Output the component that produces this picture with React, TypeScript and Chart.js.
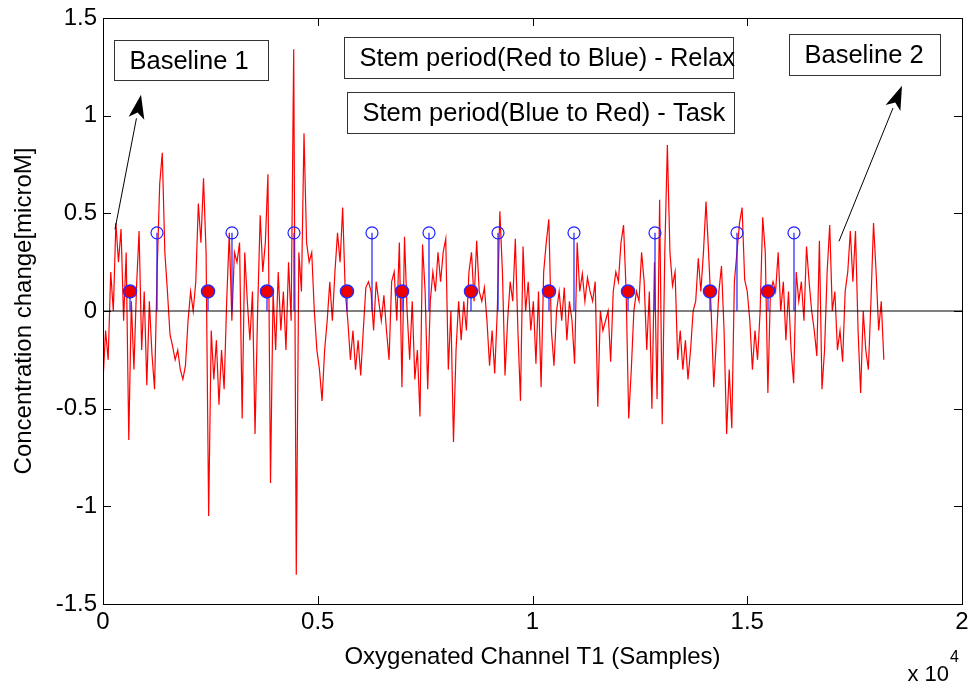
import React, { useEffect, useRef } from "react";
import { Chart, registerables } from "chart.js";

Chart.register(...registerables);

// ---------- data ----------
const SAMPLE_STEP = 60; // samples between successive readings of the signal
const signal: number[] = [
  -0.36, -0.1, -0.25, 0.2, 0.0, 0.45, 0.25, 0.42, -0.05, 0.3,
  -0.66, 0.05, -0.3, 0.12, 0.41, -0.2, 0.1, -0.38, 0.05, -0.22,
  -0.4, 0.2, 0.65, 0.81, 0.3, 0.1, -0.12, -0.18, -0.25, -0.2,
  -0.3, -0.35, -0.28, -0.05, 0.1, 0.0, 0.15, 0.55, 0.35, 0.68,
  0.3, -1.05, -0.1, -0.35, -0.15, -0.48, -0.2, -0.4, 0.05, 0.4,
  -0.05, 0.3,
  0.25, 0.35, -0.55, 0.3, 0.05, -0.15, 0.1, -0.63, 0.0, 0.49,
  0.2, 0.35, 0.7, -0.88, 0.1, -0.2, 0.2, -0.1, 0.1, -0.2,
  0.25, -0.05, 1.34, -1.35, 0.3, 0.1, 0.91, 0.35, 0.25, 0.3,
  0.0, -0.2, -0.3, -0.46, -0.2, -0.05, 0.15, -0.05, 0.2, 0.4,
  0.25, 0.53, 0.1, -0.05, -0.25, -0.1, -0.3, -0.15, -0.33, -0.1,
  0.12, 0.15,
  0.1, -0.1, 0.15, 0.05, -0.05, 0.08, -0.1, -0.25, 0.15, 0.2,
  -0.05, 0.35, -0.39, 0.38, 0.0, -0.25, 0.05, -0.35, -0.2, -0.54,
  0.34, 0.1, -0.4, 0.05, 0.2, 0.1, 0.3, 0.15, 0.3, 0.37,
  -0.3, 0.0, -0.67, -0.2, 0.05, -0.15, 0.05, -0.1, 0.2, 0.3,
  0.05, 0.36, 0.1, 0.05, 0.12, -0.05, -0.28, -0.1, -0.32, 0.0,
  0.51, 0.2,
  -0.33, -0.05, 0.15, 0.05, 0.37, -0.1, -0.46, 0.33, 0.0, 0.15,
  -0.1, 0.05, -0.27, 0.1, -0.39, 0.2, 0.35, 0.47, -0.1, -0.28,
  0.0, 0.1, -0.05, 0.12, -0.15, 0.05, -0.05, -0.27, 0.35, 0.1,
  0.19, 0.05, 0.17, 0.1, 0.05, 0.15, -0.49, 0.0, -0.1, -0.05,
  0.0, -0.26, 0.1, 0.2, 0.15, 0.35, 0.44, 0.1, -0.55, -0.3,
  0.0, 0.1, 0.05,
  0.3, 0.15, -0.2, 0.1, -0.5, 0.25, -0.45, 0.57, -0.58, 0.3,
  0.85, 0.3, 0.13, 0.2, -0.25, -0.1, -0.3, -0.15, -0.35, -0.2,
  0.0, 0.05, 0.27, 0.1, 0.3, 0.56, 0.3, 0.0, -0.39, -0.15,
  0.1, 0.23, -0.1, -0.63, -0.3, -0.6, 0.15, 0.3, 0.45, 0.53,
  0.16, 0.1, -0.05, -0.3, -0.1, -0.25, 0.0, 0.48, 0.3, -0.42,
  0.1, 0.15,
  0.1, 0.3, 0.0, 0.15, -0.15, 0.1, -0.2, -0.37, 0.2, 0.05,
  0.15, -0.05, 0.33, 0.15, 0.0, -0.1, -0.23, 0.36, -0.4, -0.2,
  0.2, 0.44, 0.0, 0.1, -0.2, -0.1, -0.26, 0.1, 0.2, 0.41,
  0.15, 0.41, -0.1, -0.42, 0.0, -0.2, -0.3, 0.05, 0.45, 0.2,
  -0.1, 0.05, -0.25,
];

// red (task start) stems and blue (relax start) stems
const redStemX = [629, 2445, 3818, 5681, 6962, 8568, 10384, 12224, 14133, 15483];
const redStemValue = 0.1;
const blueStemX = [1257, 3003, 4447, 6263, 7590, 9197, 10966, 12852, 14761, 16088];
const blueStemValue = 0.4;

const xMin = 0;
const xMax = 20000;
const xStep = 5000;
const yMin = -1.5;
const yMax = 1.5;
const yStep = 0.5;

const xTitle = "Oxygenated Channel T1 (Samples)";
const yTitle = "Concentration change[microM]";
const xExponentBase = "x 10";
const xExponent = "4";

// annotation boxes (data coordinates)
const boxTexts = ["Baseline 1", "Stem period(Red to Blue) - Relax", "Stem period(Blue to Red) - Task", "Baseline 2"];
const boxX0 = [256, 5611, 5681, 15972];
const boxX1 = [3842, 14668, 14691, 19488];
const boxYTop = [1.388, 1.403, 1.122, 1.418];
const boxYBottom = [1.184, 1.194, 0.913, 1.209];

// arrows (data coordinates): tail -> tip
const arrowTailX = [279, 17136];
const arrowTailY = [0.418, 0.357];
const arrowTipX = [885, 18603];
const arrowTipY = [1.107, 1.153];

const FONT = "'Liberation Sans', Arial, Helvetica, sans-serif";

export default function App() {
  const canvasRef = useRef<HTMLCanvasElement | null>(null);

  useEffect(() => {
    document.body.style.margin = "0";
    const canvas = canvasRef.current;
    if (!canvas) return;

    const signalData = signal.map((v, i) => ({ x: i * SAMPLE_STEP, y: v }));
    const stemLines = (xs: number[], v: number) => {
      const out: { x: number; y: number | null }[] = [];
      xs.forEach((x) => {
        out.push({ x, y: 0 }, { x, y: v }, { x, y: null });
      });
      return out;
    };

    const overlay = {
      id: "overlay",
      afterDatasetsDraw(chart: any) {
        const { ctx, chartArea: a, scales } = chart;
        const xs = scales.x;
        const ys = scales.y;
        ctx.save();
        ctx.strokeStyle = "#000";
        ctx.lineWidth = 1;
        // frame
        ctx.strokeRect(Math.round(a.left) + 0.5, Math.round(a.top) + 0.5, Math.round(a.right - a.left), Math.round(a.bottom - a.top));
        // inward ticks
        const tl = 8;
        ctx.beginPath();
        xs.ticks.forEach((t: any) => {
          const px = Math.round(xs.getPixelForValue(t.value)) + 0.5;
          ctx.moveTo(px, a.bottom);
          ctx.lineTo(px, a.bottom - tl);
          ctx.moveTo(px, a.top);
          ctx.lineTo(px, a.top + tl);
        });
        ys.ticks.forEach((t: any) => {
          const py = Math.round(ys.getPixelForValue(t.value)) + 0.5;
          ctx.moveTo(a.left, py);
          ctx.lineTo(a.left + tl, py);
          ctx.moveTo(a.right, py);
          ctx.lineTo(a.right - tl, py);
        });
        ctx.stroke();

        // arrows
        for (let i = 0; i < arrowTailX.length; i++) {
          const x0 = xs.getPixelForValue(arrowTailX[i]);
          const y0 = ys.getPixelForValue(arrowTailY[i]);
          const x1 = xs.getPixelForValue(arrowTipX[i]);
          const y1 = ys.getPixelForValue(arrowTipY[i]);
          const ang = Math.atan2(y1 - y0, x1 - x0);
          const hl = 24;
          const hw = 8;
          const bx = x1 - hl * Math.cos(ang);
          const by = y1 - hl * Math.sin(ang);
          ctx.beginPath();
          ctx.moveTo(x0, y0);
          ctx.lineTo(bx, by);
          ctx.stroke();
          ctx.beginPath();
          ctx.fillStyle = "#000";
          ctx.moveTo(x1, y1);
          ctx.lineTo(bx + hw * Math.sin(ang), by - hw * Math.cos(ang));
          ctx.lineTo(x1 - (hl - 6) * Math.cos(ang), y1 - (hl - 6) * Math.sin(ang));
          ctx.lineTo(bx - hw * Math.sin(ang), by + hw * Math.cos(ang));
          ctx.closePath();
          ctx.fill();
        }

        // text boxes
        ctx.font = `25.5px ${FONT}`;
        ctx.textBaseline = "middle";
        ctx.textAlign = "left";
        for (let i = 0; i < boxTexts.length; i++) {
          const l = Math.round(xs.getPixelForValue(boxX0[i])) + 0.5;
          const r = Math.round(xs.getPixelForValue(boxX1[i])) + 0.5;
          const t = Math.round(ys.getPixelForValue(boxYTop[i])) + 0.5;
          const b = Math.round(ys.getPixelForValue(boxYBottom[i])) + 0.5;
          ctx.fillStyle = "#fff";
          ctx.fillRect(l, t, r - l, b - t);
          ctx.strokeStyle = "#333";
          ctx.strokeRect(l, t, r - l, b - t);
          ctx.fillStyle = "#000";
          ctx.fillText(boxTexts[i], l + 15, (t + b) / 2 + 1);
        }

        // exponent label
        ctx.fillStyle = "#000";
        ctx.textBaseline = "alphabetic";
        ctx.textAlign = "right";
        ctx.font = `22px ${FONT}`;
        ctx.fillText(xExponentBase, a.right - 13, 681);
        ctx.font = `16px ${FONT}`;
        ctx.textAlign = "left";
        ctx.fillText(xExponent, a.right - 12, 662);
        ctx.restore();
      },
    };

    const chart = new Chart(canvas, {
      type: "line",
      data: {
        datasets: [
          {
            label: "blue markers",
            data: blueStemX.map((x) => ({ x, y: blueStemValue })),
            showLine: false,
            pointRadius: 6,
            pointBorderWidth: 1.2,
            pointBorderColor: "#1f1fff",
            pointBackgroundColor: "rgba(0,0,0,0)",
            order: 0,
          },
          {
            label: "red markers",
            data: redStemX.map((x) => ({ x, y: redStemValue })),
            showLine: false,
            pointRadius: 6.5,
            pointBorderWidth: 1.5,
            pointBorderColor: "#2a2aff",
            pointBackgroundColor: "#ee0000",
            order: 0,
          },
          {
            label: "blue stems",
            data: stemLines(blueStemX, blueStemValue),
            borderColor: "#1f1fff",
            borderWidth: 1.2,
            pointRadius: 0,
            spanGaps: false,
            order: 1,
          },
          {
            label: "red stems",
            data: stemLines(redStemX, redStemValue),
            borderColor: "#1f1fff",
            borderWidth: 1.2,
            pointRadius: 0,
            spanGaps: false,
            order: 1,
          },
          {
            label: "zero",
            data: [
              { x: xMin, y: 0 },
              { x: xMax, y: 0 },
            ],
            borderColor: "#000",
            borderWidth: 1,
            pointRadius: 0,
            order: 2,
          },
          {
            label: "signal",
            data: signalData,
            borderColor: "#ff0000",
            borderWidth: 1.2,
            pointRadius: 0,
            tension: 0,
            order: 3,
          },
        ],
      },
      options: {
        responsive: false,
        animation: false,
        devicePixelRatio: 1,
        layout: { padding: { top: 16, right: 16, left: 0, bottom: 0 } },
        plugins: { legend: { display: false }, tooltip: { enabled: false } },
        font: { family: FONT },
        scales: {
          x: {
            type: "linear",
            min: xMin,
            max: xMax,
            border: { display: false },
            grid: { display: false, drawTicks: false },
            ticks: {
              stepSize: xStep,
              color: "#000",
              padding: 6,
              maxRotation: 0,
              font: { family: FONT, size: 24, lineHeight: 1 },
              callback: (v: any) => String(Number(v) / 10000),
            },
            title: {
              display: true,
              text: xTitle,
              color: "#000",
              font: { family: FONT, size: 24 },
              padding: { top: 0, bottom: 14 },
            },
            afterFit: (s: any) => {
              s.height = 82;
            },
          },
          y: {
            type: "linear",
            min: yMin,
            max: yMax,
            border: { display: false },
            grid: { display: false, drawTicks: false },
            ticks: {
              stepSize: yStep,
              color: "#000",
              padding: 6,
              font: { family: FONT, size: 24, lineHeight: 1 },
              callback: (v: any) => String(v),
            },
            title: {
              display: true,
              text: yTitle,
              color: "#000",
              font: { family: FONT, size: 24 },
              padding: { top: 10, bottom: 0 },
            },
            afterFit: (s: any) => {
              s.width = 103;
            },
          },
        },
      } as any,
      plugins: [overlay],
    });

    return () => chart.destroy();
  }, []);

  return (
    <div style={{ width: 978, height: 686, background: "#fff" }}>
      <canvas ref={canvasRef} width={978} height={686} style={{ display: "block" }} />
    </div>
  );
}
